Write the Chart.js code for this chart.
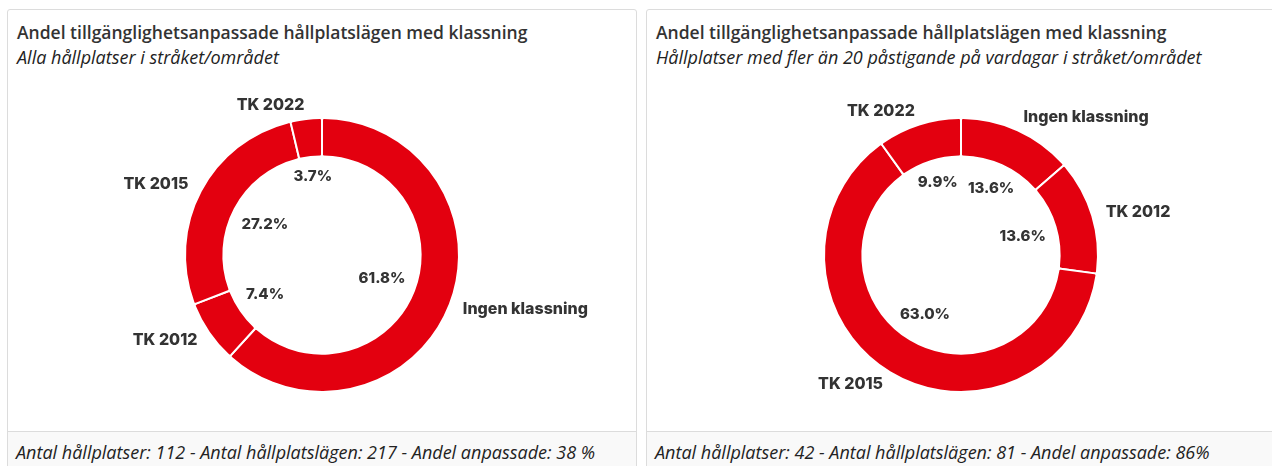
<!DOCTYPE html>
<html>
<head>
<meta charset="utf-8">
<script src="https://cdn.jsdelivr.net/npm/chart.js@4"></script>
<style>
  html, body { margin: 0; padding: 0; background: #fff; overflow: hidden; width: 1272px; height: 466px; }
  .panel {
    position: absolute; top: 9px; width: 628px; height: 480px;
    border: 1px solid #dcdcdc; border-radius: 3px; background: #fff; overflow: hidden;
  }
  .title {
    position: absolute; left: 9px; top: 11px; font: 600 17.5px/22px "Open Sans", sans-serif; color: #333;
    white-space: nowrap;
  }
  .sub {
    position: absolute; left: 9px; top: 36px; font: italic 18px/22px "Open Sans", sans-serif; color: #222;
    white-space: nowrap;
  }
  .chart { position: absolute; left: 0; top: 70px; }
  .foot {
    position: absolute; left: 0; top: 421px; width: 612px; height: 60px;
    border-top: 1px solid #dcdcdc; background: #f9f9f9; white-space: nowrap;
    padding: 9px 8px; font: italic 18px/22px "Open Sans", sans-serif; color: #222;
  }
</style>
</head>
<body>
<div class="panel" style="left:7px">
  <div class="title" id="t1"></div>
  <div class="sub" id="s1"></div>
  <canvas class="chart" id="c1" width="628" height="350"></canvas>
  <div class="foot" id="f1"></div>
</div>
<div class="panel" style="left:646px">
  <div class="title" id="t2"></div>
  <div class="sub" id="s2"></div>
  <canvas class="chart" id="c2" width="628" height="350"></canvas>
  <div class="foot" id="f2"></div>
</div>
<script>
// Data
const categories = ['Ingen klassning', 'TK 2012', 'TK 2015', 'TK 2022'];
const shareAll = [61.8, 7.4, 27.2, 3.7];   // Alla hållplatser, %
const shareBusy = [13.6, 13.6, 63.0, 9.9]; // >20 påstigande, %

const title = 'Andel tillgänglighetsanpassade hållplatslägen med klassning';
const subtitles = ['Alla hållplatser i stråket/området', 'Hållplatser med fler än 20 påstigande på vardagar i stråket/området'];
const footers = [
  'Antal hållplatser: 112 - Antal hållplatslägen: 217 - Andel anpassade: 38 %',
  'Antal hållplatser: 42 - Antal hållplatslägen: 81 - Andel anpassade: 86%'
];

const red = '#e3000f';
const textColor = '#333';

// Draw percent inside the hole and the category name outside the ring
const ringLabels = {
  id: 'ringLabels',
  afterDatasetsDraw(chart) {
    const ctx = chart.ctx;
    const meta = chart.getDatasetMeta(0);
    const values = chart.data.datasets[0].data;
    ctx.save();
    ctx.fillStyle = textColor;
    ctx.textBaseline = 'middle';
    meta.data.forEach((arc, i) => {
      const p = arc.getProps(['x', 'y', 'startAngle', 'endAngle', 'innerRadius', 'outerRadius'], true);
      const mid = (p.startAngle + p.endAngle) / 2;
      const dx = Math.cos(mid), dy = Math.sin(mid);

      ctx.font = '800 15px Inter, sans-serif';
      const txt = values[i].toFixed(1) + '%';
      const w = ctx.measureText(txt).width;
      const r = p.innerRadius - 10 - (Math.abs(dx) * w / 2 + Math.abs(dy) * 7);
      ctx.textAlign = 'center';
      ctx.fillText(txt, p.x + dx * r, p.y + dy * r);

      ctx.font = '800 16px Inter, sans-serif';
      const ro = p.outerRadius + 14;
      ctx.textAlign = dx >= 0 ? 'left' : 'right';
      ctx.fillText(chart.data.labels[i], p.x + dx * ro, p.y + dy * ro);
    });
    ctx.restore();
  }
};

function makeChart(id, values) {
  return new Chart(document.getElementById(id).getContext('2d'), {
    type: 'doughnut',
    data: {
      labels: categories,
      datasets: [{
        data: values,
        backgroundColor: red,
        borderColor: '#fff',
        borderWidth: 2,
        borderRadius: 2,
      }]
    },
    options: {
      responsive: false,
      animation: false,
      cutout: '72%',
      layout: { padding: 37 },
      plugins: {
        legend: { display: false },
        tooltip: { enabled: false },
      },
    },
    plugins: [ringLabels],
  });
}

document.getElementById('t1').textContent = title;
document.getElementById('t2').textContent = title;
document.getElementById('s1').textContent = subtitles[0];
document.getElementById('s2').textContent = subtitles[1];
document.getElementById('f1').textContent = footers[0];
document.getElementById('f2').textContent = footers[1];

makeChart('c1', shareAll);
makeChart('c2', shareBusy);
</script>
</body>
</html>
